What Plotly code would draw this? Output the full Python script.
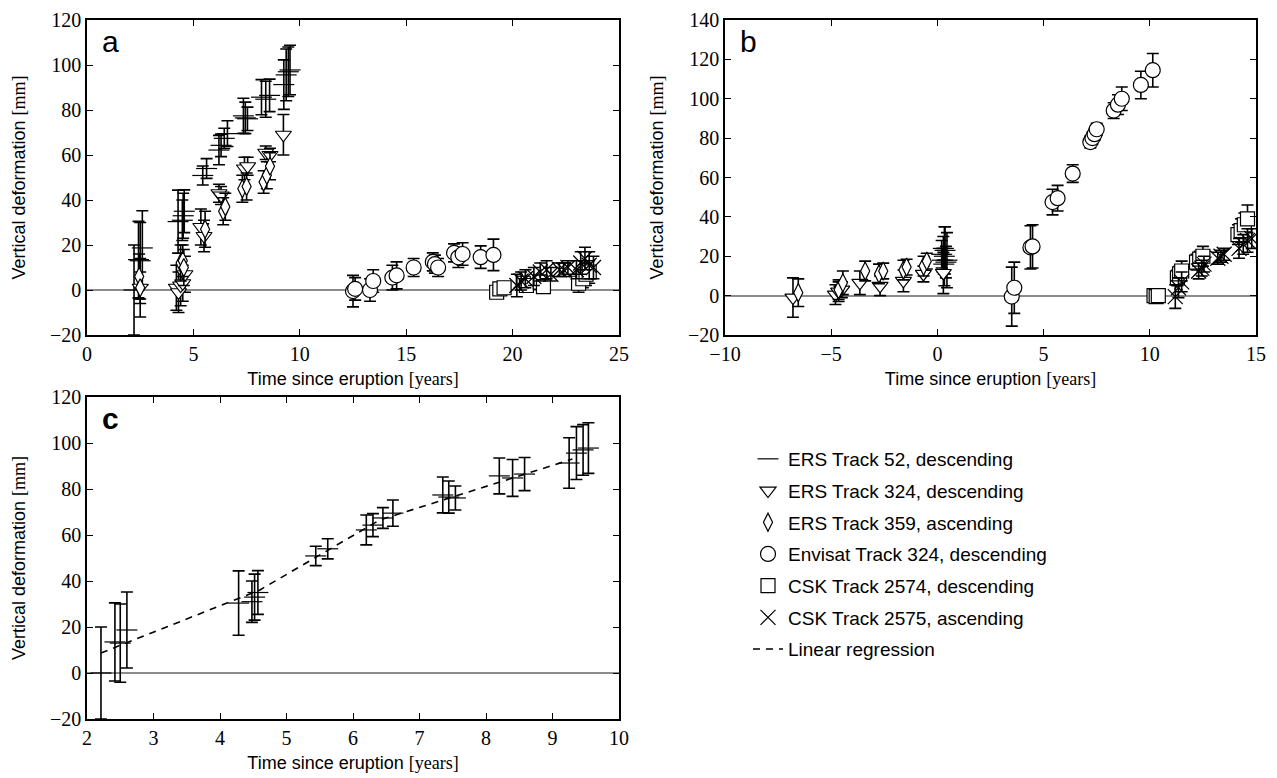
import plotly.graph_objects as go

# ---------------- data ----------------
# ERS Track 52 (shared by panels a and c)
ers52_t = [2.21, 2.42, 2.5, 2.6, 4.28, 4.48, 4.52, 4.57, 5.44, 5.62, 6.2, 6.3, 6.45, 6.6,
           7.35, 7.44, 7.54, 8.2, 8.4, 8.58, 9.25, 9.36, 9.46, 9.54]
ers52_v = [0, 13.5, 13, 18.7, 30.4, 31, 33, 35, 50.9, 54, 62.2, 64.3, 67.4, 69.5,
           77.4, 76.5, 76.1, 85.7, 84.8, 86.5, 91.3, 95.6, 97, 97.8]
ers52_e = [20, 17, 17, 16.5, 14, 9, 10, 9.5, 4.2, 4.4, 6.5, 5, 4.5, 5.7,
           7.8, 7, 5.2, 7.8, 8, 7.2, 11, 11.5, 11, 11]

# Panel a
a_ers324_t = [2.5, 4.2, 4.3, 4.4, 4.5, 4.6, 5.35, 5.5, 6.2, 6.3, 7.4, 7.55, 8.4, 8.6, 9.23]
a_ers324_v = [1, 1, -1, 2, 3, 7, 28, 24, 43, 42, 54, 55, 61, 60, 69]
a_ers324_e = [13, 10, 9, 9, 8, 8, 8, 7, 4, 4, 5, 4, 3, 3, 9]

a_ers359_t = [2.45, 2.5, 4.4, 4.5, 4.55, 5.55, 6.4, 6.5, 7.3, 7.5, 8.3, 8.45, 8.6]
a_ers359_v = [6, 1, 12, 13, 10, 27, 35, 37, 45, 46, 48, 51, 55]
a_ers359_e = [10, 7, 8, 7, 8, 8, 6, 6, 6, 6, 5, 6, 6]

a_env_t = [12.5, 12.6, 13.3, 13.45, 14.35, 14.55, 15.35, 16.25, 16.35, 16.5, 17.25, 17.45, 17.65, 18.5, 19.1]
a_env_v = [-0.5, 0.5, 0, 4, 5.5, 6.5, 10, 12.5, 11.5, 10, 16.5, 14.5, 16, 14.6, 15.6]
a_env_e = [7, 5, 5, 5, 5.5, 6, 4, 4, 4, 4, 4, 4.5, 5, 5, 7]

a_csk2574_t = [19.25, 19.4, 19.6, 20.5, 20.65, 21.3, 21.45, 23.1, 23.3, 23.45, 23.6]
a_csk2574_v = [-1, 0.5, 1, 3, 2, 3.5, 1.5, 3, 5, 7, 8]
a_csk2574_e = [2, 2, 2, 3, 3, 3, 2, 4, 4, 5, 5]

a_csk2575_t = [20.2, 20.4, 20.6, 21.0, 21.3, 21.6, 21.8, 22.2, 22.4, 22.6, 23.0, 23.2, 23.4, 23.6, 23.8]
a_csk2575_v = [2, 4, 5, 6, 8, 9, 7, 9, 9, 10, 9, 12, 14, 11, 10]
a_csk2575_e = [5, 4, 4, 4, 4, 4, 3, 3, 3, 3, 4, 5, 5, 6, 5]

# Panel b
b_ers52_t = [0.2, 0.24, 0.28, 0.3, 0.33, 0.36, 0.4, 0.45]
b_ers52_v = [21, 18, 24, 16, 20, 23, 17, 18]
b_ers52_e = [7, 6, 6, 5, 15, 12, 8, 14]

b_ers324_t = [-6.8, -4.8, -4.65, -4.5, -3.65, -2.7, -1.6, -0.66, 0.28]
b_ers324_v = [-1, 0.5, 2, 3, 6.5, 5, 7.5, 11, 11.5]
b_ers324_e = [10, 5, 5, 4, 6, 5, 5.5, 4, 10.5]

b_ers359_t = [-6.55, -4.65, -4.45, -3.4, -2.75, -2.55, -1.6, -1.45, -0.65, -0.5]
b_ers359_v = [1.5, 3, 6.5, 12.5, 11, 12.5, 13, 14.5, 15, 17.5]
b_ers359_e = [7, 5, 6, 5, 5, 4, 5, 4, 5, 4]

b_env_t = [3.5, 3.62, 4.38, 4.48, 5.42, 5.66, 6.37, 7.2, 7.3, 7.4, 7.5, 8.3, 8.5, 8.68, 9.58, 10.14]
b_env_v = [-0.5, 4, 24.5, 25, 47.5, 49.5, 62, 78, 80, 82, 84.5, 94, 97, 100, 107, 114.5]
b_env_e = [15, 13, 11, 11, 6.5, 6.5, 4.5, 3, 3, 3, 3, 4, 5, 6, 7, 8.5]

b_csk2574_t = [10.2, 10.3, 10.4, 11.3, 11.4, 11.5, 12.2, 12.35, 12.5, 14.15, 14.3, 14.45, 14.6]
b_csk2574_v = [0, -0.5, 0, 9, 11, 12.5, 17, 18.5, 20, 31, 33, 36, 39]
b_csk2574_e = [2, 2, 2, 4, 4, 5, 4, 4, 5, 5, 6, 6, 7]

b_csk2575_t = [11.2, 11.35, 11.5, 12.3, 12.45, 12.55, 13.2, 13.35, 13.5, 14.2, 14.4, 14.6, 14.8]
b_csk2575_v = [-0.5, 4, 7, 12.5, 14, 16, 19, 20, 21, 24, 26, 28, 29]
b_csk2575_e = [6, 5, 5, 4, 4, 4, 3, 3, 3, 5, 5, 6, 5]

# Panel c regression
reg_t = [2.21, 4.6, 6.4, 9.3]
reg_v = [8.7, 36.1, 66.5, 93]

names = ["ERS Track 52, descending", "ERS Track 324, descending", "ERS Track 359, ascending",
         "Envisat Track 324, descending", "CSK Track 2574, descending", "CSK Track 2575, ascending"]

# ---------------- figure ----------------
fig = go.Figure()

styles = {
    0: dict(symbol="line-ew", size=15, color="black"),
    1: dict(symbol="triangle-down", size=14, color="white"),
    2: dict(symbol="diamond-tall", size=13, color="white"),
    3: dict(symbol="circle", size=15, color="white"),
    4: dict(symbol="square", size=14, color="white"),
    5: dict(symbol="x-thin", size=15, color="black"),
}


def add(t, v, e, k, xa, ya, legend):
    st = styles[k]
    fig.add_trace(go.Scatter(
        x=t, y=v, mode="markers", name=names[k], xaxis=xa, yaxis=ya,
        showlegend=legend, legendgroup=names[k],
        marker=dict(symbol=st["symbol"], size=st["size"], color=st["color"],
                    line=dict(color="black", width=1.2)),
        error_y=dict(type="data", array=e, visible=True, color="black",
                     thickness=1.6, width=6),
    ))


# panel a
add(ers52_t, ers52_v, ers52_e, 0, "x", "y", True)
add(a_ers324_t, a_ers324_v, a_ers324_e, 1, "x", "y", True)
add(a_ers359_t, a_ers359_v, a_ers359_e, 2, "x", "y", True)
add(a_env_t, a_env_v, a_env_e, 3, "x", "y", True)
add(a_csk2574_t, a_csk2574_v, a_csk2574_e, 4, "x", "y", True)
add(a_csk2575_t, a_csk2575_v, a_csk2575_e, 5, "x", "y", True)
# panel b
add(b_ers52_t, b_ers52_v, b_ers52_e, 0, "x2", "y2", False)
add(b_ers324_t, b_ers324_v, b_ers324_e, 1, "x2", "y2", False)
add(b_ers359_t, b_ers359_v, b_ers359_e, 2, "x2", "y2", False)
add(b_env_t, b_env_v, b_env_e, 3, "x2", "y2", False)
add(b_csk2574_t, b_csk2574_v, b_csk2574_e, 4, "x2", "y2", False)
add(b_csk2575_t, b_csk2575_v, b_csk2575_e, 5, "x2", "y2", False)
# panel c
add(ers52_t, ers52_v, ers52_e, 0, "x3", "y3", False)
fig.add_trace(go.Scatter(
    x=reg_t, y=reg_v, mode="lines", name="Linear regression", xaxis="x3", yaxis="y3",
    line=dict(color="black", width=1.6, dash="7px,6px"), showlegend=True,
    legendgroup="reg",
))

tickfont = dict(family="Liberation Serif", size=20, color="black")
titlefont = dict(family="Liberation Sans", size=18, color="black")
base = dict(showline=True, linecolor="black", linewidth=1.5, mirror="ticks",
            ticks="inside", ticklen=6, tickwidth=1.2, tickcolor="black",
            showgrid=False, tickfont=tickfont, automargin=False,
            ticklabeloverflow="allow")
xtitle = dict(text='Time since eruption <span style="font-family:Liberation Serif">[years]</span>',
              font=titlefont, standoff=9)
ytitle = dict(text='Vertical deformation <span style="font-family:Liberation Serif">[mm]</span>',
              font=titlefont, standoff=20)

# the page body adds an 8px offset; figure is sized to fit the window
W, H, OFF = 1269, 770, 8
xa_dom = [(87 - OFF) / W, (619 - OFF) / W]
xb_dom = [(725 - OFF) / W, (1256 - OFF) / W]
y_top = [1 - (335 - OFF) / H, 1 - (20 - OFF) / H]
y_bot = [1 - (719 - OFF) / H, 1 - (397 - OFF) / H]

fig.update_layout(
    width=W, height=H,
    margin=dict(l=0, r=0, t=0, b=0),
    paper_bgcolor="white", plot_bgcolor="white",
    xaxis=dict(base, domain=xa_dom, range=[0, 25], dtick=5, zeroline=False, title=xtitle, anchor="y"),
    yaxis=dict(base, domain=y_top, range=[-20, 120], dtick=20, zeroline=True,
               zerolinecolor="#8c8c8c", zerolinewidth=1.5, title=ytitle, anchor="x"),
    xaxis2=dict(base, domain=xb_dom, range=[-10, 15], dtick=5, zeroline=False, title=xtitle, anchor="y2"),
    yaxis2=dict(base, domain=y_top, range=[-20, 140], dtick=20, zeroline=True,
                zerolinecolor="#8c8c8c", zerolinewidth=1.5, title=ytitle, anchor="x2"),
    xaxis3=dict(base, domain=xa_dom, range=[2, 10], dtick=1, zeroline=False, title=xtitle, anchor="y3"),
    yaxis3=dict(base, domain=y_bot, range=[-20, 120], dtick=20, zeroline=True,
                zerolinecolor="#8c8c8c", zerolinewidth=1.5, title=ytitle, anchor="x3"),
    legend=dict(x=740 / W, y=1 - (440 - OFF) / H, xanchor="left", yanchor="top",
                font=dict(family="Liberation Sans", size=19, color="black"),
                bgcolor="rgba(0,0,0,0)", traceorder="grouped", tracegroupgap=4),
    showlegend=True,
)

for lbl, xr, yr, bold in [("a", "x", "y", False), ("b", "x2", "y2", False), ("c", "x3", "y3", True)]:
    fig.add_annotation(text=f"<b>{lbl}</b>" if bold else lbl, xref=f"{xr} domain", yref=f"{yr} domain",
                       x=0.025, y=0.99, xanchor="left", yanchor="top", showarrow=False,
                       font=dict(family="Liberation Sans", size=30, color="black"))

fig.write_html("out.html")
